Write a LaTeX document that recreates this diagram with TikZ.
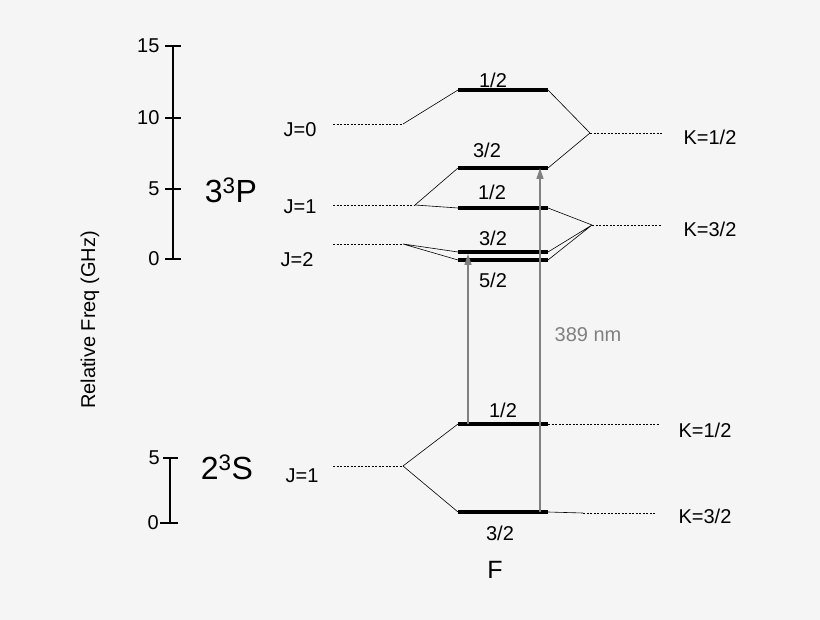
\documentclass[tikz,border=0pt]{standalone}
\usepackage{fontspec}
\setmainfont{Liberation Sans}
\usetikzlibrary{arrows.meta}
\begin{document}
\begin{tikzpicture}[x=1pt, y=-1pt,
    level/.style={line width=3.4pt, line cap=butt},
    link/.style={line width=0.6pt},
    guide/.style={dash pattern=on 2pt off 1.5pt, line width=0.6pt},
    axis/.style={line width=2.6pt},
    lbl/.style={font=\fontsize{20}{24}\selectfont},
    big/.style={font=\fontsize{32}{36}\selectfont},
    trans/.style={-{Triangle[length=11pt, width=7pt]}, gray, line width=1.3pt}]
    % background
    \fill[black!4] (0,0) rectangle (820,620);
    \useasboundingbox (0,0) rectangle (820,620);

    % Frequency scales
    \draw[axis] (173,46) -- (173,259);
    \foreach \y/\t in {46/15, 118/10, 189/5, 259/0}
      {\draw[line width=1.2pt] (165,\y) -- (181,\y); \node[lbl, anchor=east] at (163,\y) {\t};}
    \draw[axis] (170,458) -- (170,523);
    \draw[line width=1.2pt] (163,458) -- (178,458) (160,523) -- (178,523);
    \node[lbl, anchor=east, inner sep=1pt] at (161,458) {5};
    \node[lbl, anchor=east, inner sep=1pt] at (160,523) {0};
    \node[lbl, rotate=90] (freq) at (90,320) {Relative Freq (GHz)};
    \node[big] (pstate) at (231,190) {3\textsuperscript{3}P};
    \node[big] (sstate) at (227,467) {2\textsuperscript{3}S};

    % J labels
    \node[lbl] (j0) at (300,130) {J=0};
    \node[lbl] (j1) at (300,207) {J=1};
    \node[lbl] (j2) at (297,260) {J=2};
    \node[lbl] (js) at (302,476) {J=1};

    % K labels
    \node[lbl] (ka) at (710,137) {K=1/2};
    \node[lbl] (kb) at (710,229) {K=3/2};
    \node[lbl] (kc) at (705,430) {K=1/2};
    \node[lbl] (kd) at (705,516) {K=3/2};

    % branch points
    \coordinate (pj0) at (403,124); \coordinate (pj1) at (415,205);
    \coordinate (pj2) at (403,244); \coordinate (sj1) at (403,466);
    \coordinate (pka) at (590,133); \coordinate (pkb) at (592,225);

    % hyperfine levels
    \foreach \n/\y in {pa/90, pb/168, pc/208, pd/252, pe/260, sa/424, sb/512}
      {\draw[level] (458,\y) coordinate (\n l) -- (548,\y) coordinate (\n r);}
    \node[lbl] at (493,80) {1/2};
    \node[lbl] at (487,150) {3/2};
    \node[lbl] at (492,192) {1/2};
    \node[lbl] at (493,238) {3/2};
    \node[lbl] at (493,280) {5/2};
    \node[lbl] at (503,410) {1/2};
    \node[lbl] at (500,533) {3/2};

    % dashed guides
    \draw[guide] (333,124) -- (pj0);
    \draw[guide] (333,205) -- (pj1);
    \draw[guide] (333,244) -- (pj2);
    \draw[guide] (333,466) -- (sj1);
    \draw[guide] (pka) -- (662,133);
    \draw[guide] (pkb) -- (662,225);
    \draw[guide] (sar) -- (660,424);
    \draw[guide] (583,513) -- (655,513);

    % connections
    \draw[link] (pj0) -- (pal);
    \draw[link] (pj1) -- (pbl) (pj1) -- (pcl);
    \draw[link] (pj2) -- (pdl) (pj2) -- (pel);
    \draw[link] (par) -- (pka) -- (pbr);
    \draw[link] (pcr) -- (pkb) (pdr) -- (pkb) (per) -- (pkb);
    \draw[link] (sal) -- (sj1) -- (sbl);
    \draw[link] (sbr) -- (583,513);

    % transitions
    \draw[trans] (468,424) -- (468,254);
    \draw[trans] (540,512) -- (540,168);
    \node[lbl, text=gray] (nm) at (588,335) {389 nm};
    \node[font=\fontsize{25}{28}\selectfont] (F) at (495,570) {F};
\end{tikzpicture}
\end{document}
